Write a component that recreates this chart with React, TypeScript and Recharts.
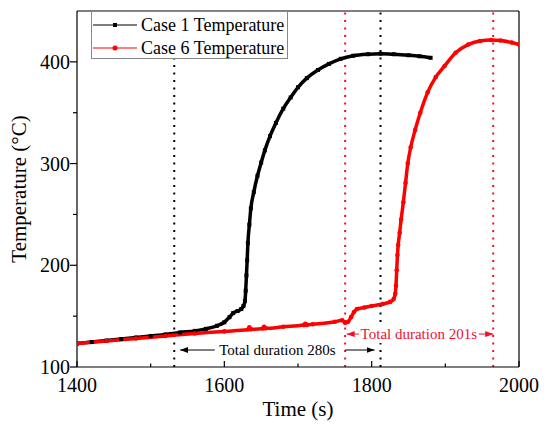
import React from 'react';
import { LineChart, Line, XAxis, YAxis, ReferenceLine, ReferenceDot, Legend } from 'recharts';

const FONT = '"Liberation Serif", "Times New Roman", serif';

const case1Time = [1400, 1420, 1440, 1460, 1480, 1500, 1520, 1540, 1560, 1575, 1590, 1600, 1607, 1612, 1618, 1623, 1626, 1628, 1629, 1630, 1631, 1632, 1634, 1636, 1640, 1645, 1650, 1655, 1662, 1670, 1680, 1690, 1700, 1712, 1727, 1742, 1758, 1775, 1795, 1812, 1830, 1850, 1865, 1880];
const case1Temp = [123, 124.5, 126, 127.5, 129, 130.5, 132, 134, 135.5, 137.5, 140.5, 144, 149, 153, 155, 157, 160, 165, 175, 190, 205, 222, 240, 256, 272, 288, 301, 313, 327, 340, 354, 365, 375, 384, 392, 398, 403, 406, 407.5, 408, 407.5, 406.5, 405.5, 404];

const case6Time = [1400, 1440, 1480, 1520, 1560, 1600, 1632, 1634, 1636, 1652, 1654, 1656, 1680, 1708, 1710, 1712, 1720, 1750, 1760, 1764, 1768, 1772, 1776, 1780, 1790, 1800, 1815, 1825, 1830, 1832, 1833, 1834, 1835, 1836, 1838, 1840, 1843, 1846, 1849, 1853, 1859, 1866, 1876, 1887, 1899, 1914, 1931, 1947, 1962, 1975, 1990, 2000];
const case6Temp = [123, 125.5, 128, 130.5, 133, 135, 136.8, 139, 137, 137.8, 139.5, 138, 139.5, 141.2, 142.5, 141.4, 142, 144.5, 146, 143.5, 144.5, 149, 154, 157, 158.5, 160, 162, 164, 167, 172, 180, 195, 210, 220, 232, 245, 262, 281, 300, 316, 333, 350, 370, 385, 396, 409, 417, 420.5, 421.5, 421, 419, 417];

const xTicks = [1400, 1500, 1600, 1700, 1800, 1900, 2000];
const xLabels = [1400, 1600, 1800, 2000];
const yTicks = [100, 150, 200, 250, 300, 350, 400];
const yLabels = [100, 200, 300, 400];

const case1Markers = [1532, 1812];
const case6Markers = [1764, 1965];

const case1Data = case1Time.map((t, i) => ({ t, v: case1Temp[i] }));
const case6Data = case6Time.map((t, i) => ({ t, v: case6Temp[i] }));

const RED = '#ff0000';
const PINK = '#f0102e';

const XTick = (props: any) => {
  const { x, y, payload } = props;
  const axisY = y - 10;
  const major = xLabels.includes(payload.value);
  return (
    <g>
      <line x1={x} x2={x} y1={axisY} y2={axisY - (major ? 6 : 3.5)} stroke="#000" strokeWidth={1.2} />
      {major && (
        <text x={x} y={axisY + 25} textAnchor="middle" fontSize={20} fontFamily={FONT} fill="#000">
          {payload.value}
        </text>
      )}
    </g>
  );
};

const YTick = (props: any) => {
  const { x, y, payload } = props;
  const axisX = x + 7;
  const major = yLabels.includes(payload.value);
  return (
    <g>
      <line x1={axisX} x2={axisX - (major ? 7 : 4)} y1={y} y2={y} stroke="#000" strokeWidth={1.2} />
      {major && (
        <text x={axisX - 7} y={y + 7} textAnchor="end" fontSize={20} fontFamily={FONT} fill="#000">
          {payload.value}
        </text>
      )}
    </g>
  );
};

const SquareDot = (props: any) => {
  const { cx, cy, index } = props;
  if (cx == null || cy == null) return <g key={index} />;
  return <rect key={index} x={cx - 2} y={cy - 2} width={4} height={4} fill="#000" />;
};

const CircleDot = (props: any) => {
  const { cx, cy, index } = props;
  if (cx == null || cy == null) return <g key={index} />;
  return <circle key={index} cx={cx} cy={cy} r={2.3} fill={RED} />;
};

const LegendContent = () => (
  <div
    style={{
      width: 195,
      height: 46,
      border: '1px solid #888',
      background: '#fff',
      fontFamily: FONT,
      fontSize: 18,
      position: 'relative',
    }}
  >
    {[
      { label: 'Case 1 Temperature', color: '#000', shape: 'square' },
      { label: 'Case 6 Temperature', color: RED, shape: 'circle' },
    ].map((item, i) => (
      <div
        key={item.label}
        style={{ position: 'absolute', left: 1, top: 2 + i * 23, height: 22, display: 'flex', alignItems: 'center' }}
      >
        <svg width={44} height={10}>
          <line x1={0} x2={44} y1={5} y2={5} stroke={item.color} strokeWidth={1.2} />
          {item.shape === 'square' ? (
            <rect x={20} y={3} width={4} height={4} fill={item.color} />
          ) : (
            <circle cx={22} cy={5} r={2.5} fill={item.color} />
          )}
        </svg>
        <span style={{ marginLeft: 4, lineHeight: '22px', color: '#000', whiteSpace: 'nowrap' }}>{item.label}</span>
      </div>
    ))}
  </div>
);

const Annot = (color: string, text: string, bg: boolean, width: number) => (props: any) => {
  const { cx, cy } = props;
  if (cx == null || cy == null) return <g />;
  return (
    <g>
      {bg && <rect x={cx - width / 2} y={cy - 9} width={width} height={18} fill="#fff" />}
      <text x={cx} y={cy + 5} textAnchor="middle" fontSize={15} fontFamily={FONT} fill={color}>
        {text}
      </text>
    </g>
  );
};

const arrowShape = (color: string, id: string) => (p: any) => (
  <line x1={p.x1} y1={p.y1} x2={p.x2} y2={p.y2} stroke={color} strokeWidth={1} markerEnd={`url(#${id})`} />
);

const blackArrowY = 116.7;
const redArrowY = 132.4;

export default function App() {
  return (
    <div style={{ position: 'absolute', left: 0, top: 0, width: 550, height: 431, background: '#fff', fontFamily: FONT }}>
      <LineChart width={550} height={431} margin={{ top: 11, right: 31, left: 0, bottom: 0 }}>
        <defs>
          <marker id="arrBlack" markerUnits="userSpaceOnUse" markerWidth={8} markerHeight={6} refX={8} refY={3} orient="auto">
            <path d="M0,0 L8,3 L0,6 z" fill="#000" />
          </marker>
          <marker id="arrRed" markerUnits="userSpaceOnUse" markerWidth={8} markerHeight={6} refX={8} refY={3} orient="auto">
            <path d="M0,0 L8,3 L0,6 z" fill={PINK} />
          </marker>
        </defs>
        <XAxis
          dataKey="t"
          type="number"
          domain={[1400, 2000]}
          ticks={xTicks}
          allowDataOverflow
          height={64}
          tickLine={false}
          tickSize={8}
          tickMargin={2}
          tick={<XTick />}
          axisLine={{ stroke: '#000', strokeWidth: 1.2 }}
          interval={0}
          label={(props: any) => {
            const vb = props.viewBox;
            return (
              <text x={vb.x + vb.width / 2} y={416} textAnchor="middle" fontSize={21} fontFamily={FONT} fill="#000">
                Time (s)
              </text>
            );
          }}
        />
        <YAxis
          type="number"
          domain={[100, 450]}
          ticks={yTicks}
          allowDataOverflow
          width={77}
          tickLine={false}
          tickSize={7}
          tickMargin={0}
          tick={<YTick />}
          axisLine={{ stroke: '#000', strokeWidth: 1.2 }}
          interval={0}
          label={(props: any) => {
            const vb = props.viewBox;
            const cy = vb.y + vb.height / 2;
            return (
              <text x={19} y={cy} transform={`rotate(-90 19 ${cy})`} textAnchor="middle" dominantBaseline="central" fontSize={21} fontFamily={FONT} fill="#000">
                Temperature (°C)
              </text>
            );
          }}
        />
        <ReferenceLine y={450} stroke="#000" strokeWidth={1.2} />
        <ReferenceLine x={2000} stroke="#000" strokeWidth={1.2} />
        {case1Markers.map((m) => (
          <ReferenceLine key={`b${m}`} x={m} stroke="#000" strokeWidth={2} strokeDasharray="2 5.5" />
        ))}
        {case6Markers.map((m) => (
          <ReferenceLine key={`r${m}`} x={m} stroke={PINK} strokeWidth={2} strokeDasharray="2 5.5" />
        ))}
        <Line
          data={case1Data}
          dataKey="v"
          type="monotone"
          stroke="#000"
          strokeWidth={3.5}
          dot={<SquareDot />}
          isAnimationActive={false}
          name="Case 1 Temperature"
        />
        <Line
          data={case6Data}
          dataKey="v"
          type="monotone"
          stroke={RED}
          strokeWidth={3.5}
          dot={<CircleDot />}
          isAnimationActive={false}
          name="Case 6 Temperature"
        />
        <ReferenceLine segment={[{ x: 1587, y: blackArrowY }, { x: 1540, y: blackArrowY }]} shape={arrowShape('#000', 'arrBlack')} />
        <ReferenceLine segment={[{ x: 1764, y: blackArrowY }, { x: 1804, y: blackArrowY }]} shape={arrowShape('#000', 'arrBlack')} />
        <ReferenceDot x={1672} y={blackArrowY} r={0} shape={Annot('#000', 'Total duration 280s', false, 122)} />
        <ReferenceLine segment={[{ x: 1784, y: redArrowY }, { x: 1766, y: redArrowY }]} shape={arrowShape(PINK, 'arrRed')} />
        <ReferenceLine segment={[{ x: 1944, y: redArrowY }, { x: 1965, y: redArrowY }]} shape={arrowShape(PINK, 'arrRed')} />
        <ReferenceDot x={1864} y={redArrowY} r={0} shape={Annot(PINK, 'Total duration 201s', true, 120)} />
        <Legend
          layout="vertical"
          align="center"
          verticalAlign="middle"
          content={<LegendContent />}
          wrapperStyle={{ left: 91, top: 11, width: 197, height: 48 }}
        />
      </LineChart>
    </div>
  );
}
